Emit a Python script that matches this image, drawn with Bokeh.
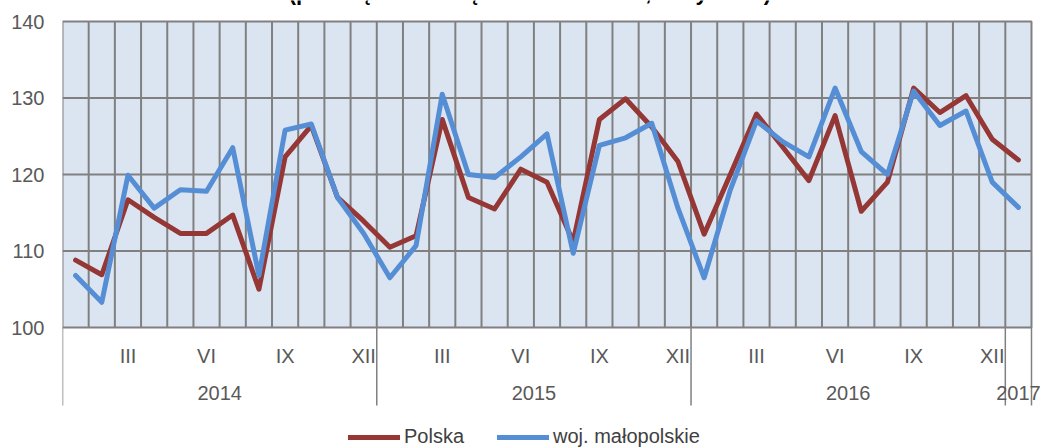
from bokeh.plotting import figure
from bokeh.models import Range1d, LinearAxis, FixedTicker, Legend
from bokeh.core.properties import value
from bokeh.embed import file_html
from bokeh.resources import INLINE

# ---- data ----
month_labels = ["III", "VI", "IX", "XII", "III", "VI", "IX", "XII", "III", "VI", "IX", "XII"]
month_label_idx = [2, 5, 8, 11, 14, 17, 20, 23, 26, 29, 32, 35]
years = ["2014", "2015", "2016", "2017"]
year_months = [12, 12, 12, 1]
polska = [108.8, 106.9, 116.7, 114.4, 112.3, 112.3, 114.7, 105.0, 122.3, 126.4, 117.0, 113.9,
          110.5, 112.0, 127.2, 117.0, 115.5, 120.7, 119.0, 111.2, 127.2, 129.9, 126.2, 121.7,
          112.2, 120.0, 127.9, 123.6, 119.2, 127.7, 115.2, 119.0, 131.3, 128.1, 130.3, 124.6,
          121.9]
malopolskie = [106.8, 103.3, 119.9, 115.6, 118.0, 117.8, 123.5, 106.8, 125.8, 126.6, 117.0, 112.3,
               106.5, 110.7, 130.5, 120.0, 119.6, 122.3, 125.3, 109.7, 123.8, 124.8, 126.7, 115.6,
               106.5, 118.0, 127.0, 124.3, 122.3, 131.3, 123.0, 120.0, 130.9, 126.4, 128.3, 119.0,
               115.7]
y_ticks = [100, 110, 120, 130, 140]
title_text = "(przeciętna miesięczna 2010 = 100, ceny stałe)"

n = len(polska)
xs = [i + 0.5 for i in range(n)]
YMIN, YMAX = y_ticks[0], y_ticks[-1]

# ---- layout constants (pixels) ----
W, H = 1041, 448
LEFT = 62
PX_X = 969 / n                 # pixels per month
PX_Y = 306 / (YMAX - YMIN)     # pixels per unit
TOP_PAD, BOT_PAD = 21, 121

FONT = "Liberation Sans"
GRID = "#808080"
TXT = "#595959"

p = figure(frame_width=W - LEFT, frame_height=H,
           x_range=Range1d(0, (W - LEFT) / PX_X),
           y_range=Range1d(YMIN - BOT_PAD / PX_Y, YMAX + TOP_PAD / PX_Y),
           x_axis_location=None, y_axis_location=None,
           output_backend="svg", toolbar_location=None,
           min_border_left=LEFT, min_border_right=0, min_border_top=0, min_border_bottom=0)
p.background_fill_color = "white"
p.border_fill_color = "white"
p.outline_line_color = None
p.xgrid.visible = False
p.ygrid.visible = False

# y axis
yax = LinearAxis(ticker=FixedTicker(ticks=y_ticks),
                 axis_line_color=None, major_tick_line_color=None, minor_tick_line_color=None,
                 major_tick_out=0, major_tick_in=0,
                 major_label_standoff=18, major_label_text_font=FONT,
                 major_label_text_font_size="20px", major_label_text_color=TXT)
p.add_layout(yax, "left")

# plot area background
p.quad(left=[0], right=[n], bottom=[YMIN], top=[YMAX], fill_color="#dbe5f1", line_color=None)

# grid lines
vx = list(range(1, n))
p.segment(x0=vx, y0=[YMIN] * len(vx), x1=vx, y1=[YMAX] * len(vx),
          line_color=GRID, line_width=2)
hy = y_ticks[1:-1]
p.segment(x0=[0] * len(hy), y0=hy, x1=[n] * len(hy), y1=hy, line_color=GRID, line_width=2)
p.quad(left=[0], right=[n], bottom=[YMIN], top=[YMAX], fill_color=None,
       line_color=GRID, line_width=2)

# category axis: year separators, month labels, year labels
bounds = [0]
for m in year_months:
    bounds.append(bounds[-1] + m)
sep_bottom = YMIN - 78 / PX_Y
p.segment(x0=bounds, y0=[YMIN] * len(bounds), x1=bounds, y1=[sep_bottom] * len(bounds),
          line_color=GRID, line_width=1.5)

mpos = [i + 0.5 for i in month_label_idx]
p.text(x=mpos, y=[YMIN - 28 / PX_Y] * len(mpos), text=month_labels,
       text_align="center", text_baseline="middle", text_font=value(FONT),
       text_font_size="20px", text_color=TXT)
ypos = [(a + b) / 2 for a, b in zip(bounds[:-1], bounds[1:])]
p.text(x=ypos, y=[YMIN - 65 / PX_Y] * len(ypos), text=years,
       text_align="center", text_baseline="middle", text_font=value(FONT),
       text_font_size="20px", text_color=TXT)

# title (cut off at the top edge, as in the reference)
p.text(x=[17.85], y=[YMAX + (TOP_PAD + 8) / PX_Y], text=[title_text],
       text_align="center", text_baseline="alphabetic", text_font=value(FONT),
       text_font_style="bold", text_font_size="22px", text_color="black")

# series
r1 = p.line(xs, polska, line_color="#953735", line_width=5, line_join="round", line_cap="round")
r2 = p.line(xs, malopolskie, line_color="#558ed5", line_width=5, line_join="round", line_cap="round")

legend = Legend(items=[("Polska", [r1]), ("woj. małopolskie", [r2])],
                orientation="horizontal", location=(286, 0),
                label_text_font=FONT, label_text_font_size="20px", label_text_color="#404040",
                glyph_width=52, glyph_height=20, label_standoff=4, spacing=33,
                border_line_color=None, background_fill_alpha=0,
                padding=0, margin=0)
p.add_layout(legend, "center")

open("out.html", "w").write(file_html(p, INLINE))
